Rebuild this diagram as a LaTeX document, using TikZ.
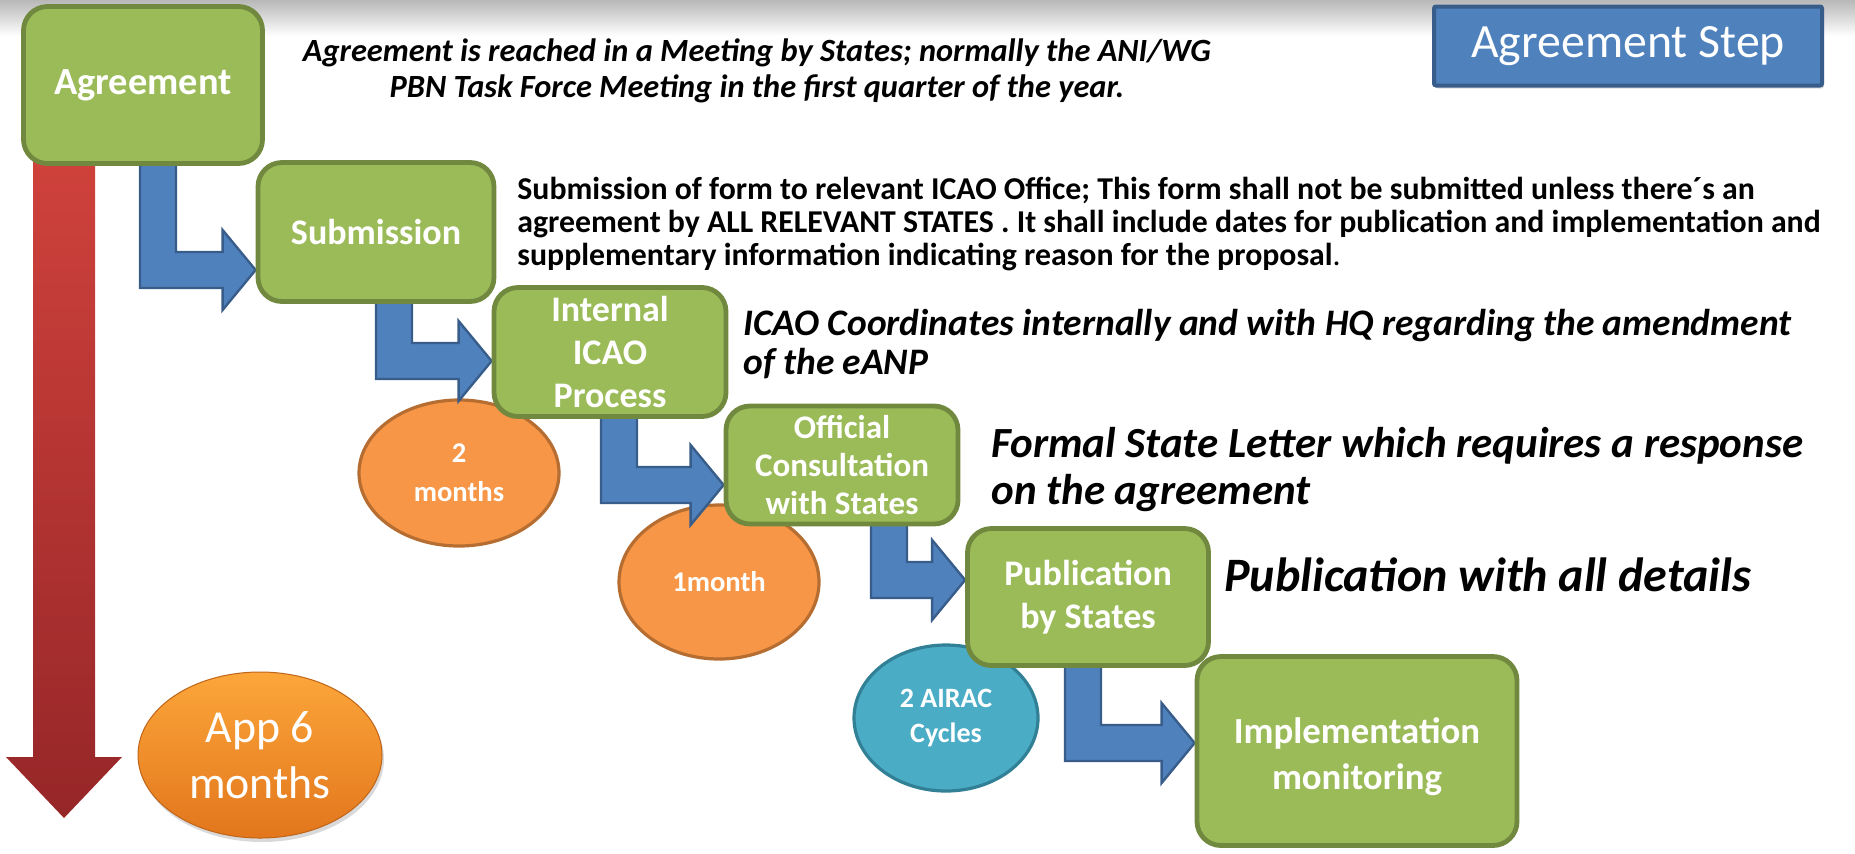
\documentclass[tikz,border=0pt]{standalone}
\usepackage{fontspec}
\setmainfont{Carlito}
\usetikzlibrary{calc,shapes.geometric,backgrounds,shadows}

\definecolor{boxgreen}{RGB}{155,187,89}
\definecolor{boxborder}{RGB}{113,137,63}
\definecolor{arrowblue}{RGB}{79,129,189}
\definecolor{arrowborder}{RGB}{56,93,138}
\definecolor{timeorange}{RGB}{247,150,70}
\definecolor{timeborder}{RGB}{182,109,49}
\definecolor{cycleteal}{RGB}{75,172,198}
\definecolor{cycleborder}{RGB}{49,128,150}
\definecolor{redtop}{RGB}{208,66,60}
\definecolor{redbottom}{RGB}{150,38,40}
\definecolor{apptop}{RGB}{252,166,58}
\definecolor{appbottom}{RGB}{226,118,28}

% elbow arrow: source, target, shaft shift, tip shift
\newcommand{\elbowarrow}[4]{%
  \fill[bluearrow] let \p1=($(#1.south)+(#3,-4)$), \p2=($(#2.west)+(0,#4)$) in
    (\x1,\y1) -- (\x1+18pt,\y1) -- (\x1+18pt,\y2+9pt) -- (\x2-16.5pt,\y2+9pt)
    -- (\x2-16.5pt,\y2+20pt) -- (\x2,\y2) -- (\x2-16.5pt,\y2-20pt)
    -- (\x2-16.5pt,\y2-9pt) -- (\x1,\y2-9pt) -- cycle;
}

\begin{document}
\begin{tikzpicture}[
        x=0.5pt, y=-0.5pt,
        stepbox/.style={draw=boxborder, line width=2.4pt, rounded corners=12pt, fill=boxgreen, text=white, align=center, inner sep=0pt, font=\bfseries\fontsize{18}{21.5}\selectfont},
        timebox/.style={ellipse, draw=timeborder, line width=1.6pt, fill=timeorange, text=white, align=center, inner sep=0pt, font=\bfseries\fontsize{14.3}{19.5}\selectfont},
        bluearrow/.style={fill=arrowblue, draw=arrowborder, line width=1.2pt, line join=miter},
        note/.style={text=black, align=left, inner sep=0pt, anchor=west}
    ]

        \useasboundingbox (0,0) rectangle (1855,853);

        % 1. Agreement
        \node[stepbox, minimum width=119.5pt, minimum height=78.5pt, font=\bfseries\fontsize{19.2}{22}\selectfont] (agr) at (143,85) {\raisebox{-3pt}{Agreement}};
        \node[note, anchor=center, align=center, font=\bfseries\itshape\fontsize{16.2}{17.7}\selectfont] (agrnote) at (757,71)
            {Agreement is reached in a Meeting by States; normally the ANI/WG\\PBN Task Force Meeting in the first quarter of the year.};

        % 2. Submission
        \node[stepbox, minimum width=118pt, minimum height=69.5pt] (sub) at (376,232) {Submission};
        \node[note, font=\bfseries\fontsize{15.9}{16.7}\selectfont] (subnote) at (517,224)
            {Submission of form to relevant ICAO Office; This form shall not be submitted unless there´s an\\
             agreement by ALL RELEVANT STATES . It shall include dates for publication and implementation and\\
             supplementary information indicating reason for the proposal{\mdseries .}};

        % 3. Internal ICAO process
        \node[stepbox, minimum width=116pt, minimum height=64.5pt] (int) at (610,352) {Internal\\ICAO\\Process};
        \node[note, font=\bfseries\itshape\fontsize{18.7}{19.8}\selectfont] (intnote) at (743,344)
            {ICAO Coordinates internally and with HQ regarding the amendment\\of the eANP};

        % 4. Consultation
        \node[stepbox, minimum width=116pt, minimum height=59pt, font=\bfseries\fontsize{16.5}{19}\selectfont] (off) at (842,465) {Official\\Consultation\\with States};
        \node[note, font=\bfseries\itshape\fontsize{21.5}{23.5}\selectfont] (offnote) at (991,470)
            {Formal State Letter which requires a response\\on the agreement};

        % 5. Publication
        \node[stepbox, minimum width=120.5pt, minimum height=68.5pt] (pub) at (1088,597) {Publication\\by States};
        \node[note, font=\bfseries\itshape\fontsize{24}{28}\selectfont] (pubnote) at (1224,575) {Publication with all details};

        % 6. Implementation
        \node[stepbox, minimum width=160pt, minimum height=94.5pt, font=\bfseries\fontsize{18.4}{23}\selectfont] (imp) at (1357,751) {\\[-4pt]Implementation\\monitoring};

        % title tag
        \node[draw=arrowborder, line width=2pt, rounded corners=1pt, fill=arrowblue, text=white, minimum width=194pt, minimum height=39.5pt,
              font=\fontsize{23.9}{26}\selectfont, drop shadow={opacity=0.25, shadow xshift=1pt, shadow yshift=-1.5pt}] (steptag) at (1628,46) {Agreement Step};

        % --- time line, durations and arrows behind the boxes ---
        \begin{scope}[on background layer]
            \shade[top color=black!28, bottom color=white] (0,0) rectangle (1855,36);
            \shade[top color=redtop, bottom color=redbottom] (33,150) -- (95,150) -- (95,757) -- (122,757) -- (64,818) -- (6,757) -- (33,757) -- cycle;

            \node[timebox, minimum width=100pt, minimum height=73pt] (twomonths) at (459,473) {2\\months};
            \node[timebox, minimum width=100pt, minimum height=77pt] (onemonth) at (719,582) {1month};
            \node[timebox, draw=cycleborder, fill=cycleteal, minimum width=92pt, minimum height=73pt, font=\bfseries\fontsize{14}{17.7}\selectfont] (airac) at (946,718) {2 AIRAC\\Cycles};
            \node[ellipse, top color=apptop, bottom color=appbottom, draw=appbottom!85!black, line width=0.5pt, text=white, align=center, inner sep=0pt,
                  minimum width=122pt, minimum height=83pt, font=\fontsize{22.9}{28}\selectfont,
                  drop shadow={opacity=0.3, shadow xshift=1pt, shadow yshift=-2pt}] (appsix) at (260,755) {App 6\\months};

            \elbowarrow{agr}{sub}{-3}{38}
            \elbowarrow{sub}{int}{0}{9}
            \elbowarrow{int}{off}{-9}{20}
            \elbowarrow{off}{pub}{29}{-17}
            \elbowarrow{pub}{imp}{-23}{-8}
        \end{scope}

    \end{tikzpicture}
\end{document}
